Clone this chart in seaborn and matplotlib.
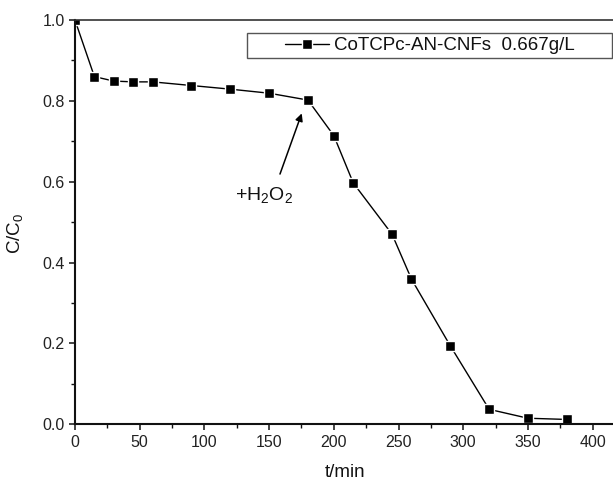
import matplotlib
matplotlib.use("Agg")
import matplotlib.pyplot as plt
from matplotlib.patches import Rectangle
from matplotlib.ticker import MultipleLocator, FormatStrFormatter
import seaborn as sns

# Degradation of dye over time (catalyst dose 0.667 g/L), H2O2 added at 180 min
time_min = [0, 15, 30, 45, 60, 90, 120, 150, 180, 200, 215, 245, 260, 290, 320, 350, 380]
c_ratio = [1.000, 0.860, 0.849, 0.847, 0.847, 0.838, 0.829, 0.819, 0.802,
           0.714, 0.597, 0.470, 0.359, 0.194, 0.037, 0.015, 0.012]
series_label = "CoTCPc-AN-CNFs  0.667g/L"

sns.set_style("ticks")
plt.rcParams["font.family"] = ["Liberation Sans", "DejaVu Sans"]
plt.rcParams["mathtext.fontset"] = "custom"
plt.rcParams["mathtext.rm"] = "Liberation Sans"
plt.rcParams["mathtext.it"] = "Liberation Sans"
plt.rcParams["mathtext.default"] = "regular"

fig = plt.figure(figsize=(6.13, 4.79), dpi=100)
ax = fig.add_axes([0.1223, 0.1142, 0.8868, 0.8440])

sns.lineplot(x=time_min, y=c_ratio, ax=ax, color="black", linewidth=1.0,
             marker="s", markersize=7.2, markerfacecolor="black",
             markeredgecolor="white", markeredgewidth=1.0,
             label=series_label, legend=False)

ax.set_xlim(0, 420)
ax.set_ylim(0, 1.0)
ax.xaxis.set_major_locator(MultipleLocator(50))
ax.xaxis.set_minor_locator(MultipleLocator(25))
ax.yaxis.set_major_locator(MultipleLocator(0.2))
ax.yaxis.set_minor_locator(MultipleLocator(0.1))
ax.yaxis.set_major_formatter(FormatStrFormatter("%.1f"))

for side in ("left", "bottom"):
    ax.spines[side].set_linewidth(1.5)
    ax.spines[side].set_color("#111111")
ax.spines["top"].set_linewidth(1.2)
ax.spines["top"].set_color("#333333")
ax.spines["right"].set_visible(False)

ax.tick_params(which="major", direction="out", length=4.5, width=1.1,
               labelsize=11.5, colors="#111111", labelcolor="#222222", pad=3)
ax.tick_params(which="minor", direction="out", length=3, width=1.0, colors="#111111")

ax.set_xlabel("t/min", fontsize=13.5, color="#111111")
ax.set_ylabel("C/C$_0$", fontsize=13.5, color="#111111")
ax.xaxis.set_label_coords(0.497, -0.097)
ax.yaxis.set_label_coords(-0.092, 0.473)

# H2O2 addition marker
ax.annotate("", xy=(175.2, 0.769), xytext=(158.4, 0.619),
            arrowprops=dict(arrowstyle="-|>", color="black", lw=1.1,
                            mutation_scale=11, shrinkA=0, shrinkB=0))
ax.text(123.6, 0.555, "+H$_2$O$_2$", fontsize=14, ha="left", va="baseline",
        color="#111111")

# Legend with a wide framed box
handles, labels = ax.get_legend_handles_labels()
fig.legend(handles, labels, loc="center", bbox_to_anchor=(0.7007, 0.905),
           frameon=False, fontsize=13.5, handlelength=2.35, handletextpad=0.27,
           borderpad=0, labelcolor="#111111")
fig.add_artist(Rectangle((247 / 613, 1 - 57.5 / 479), (611.5 - 247) / 613, 24.5 / 479,
                         transform=fig.transFigure, fill=False,
                         edgecolor="#555555", linewidth=1.0))

fig.savefig("out.png", dpi=100, facecolor="white")
